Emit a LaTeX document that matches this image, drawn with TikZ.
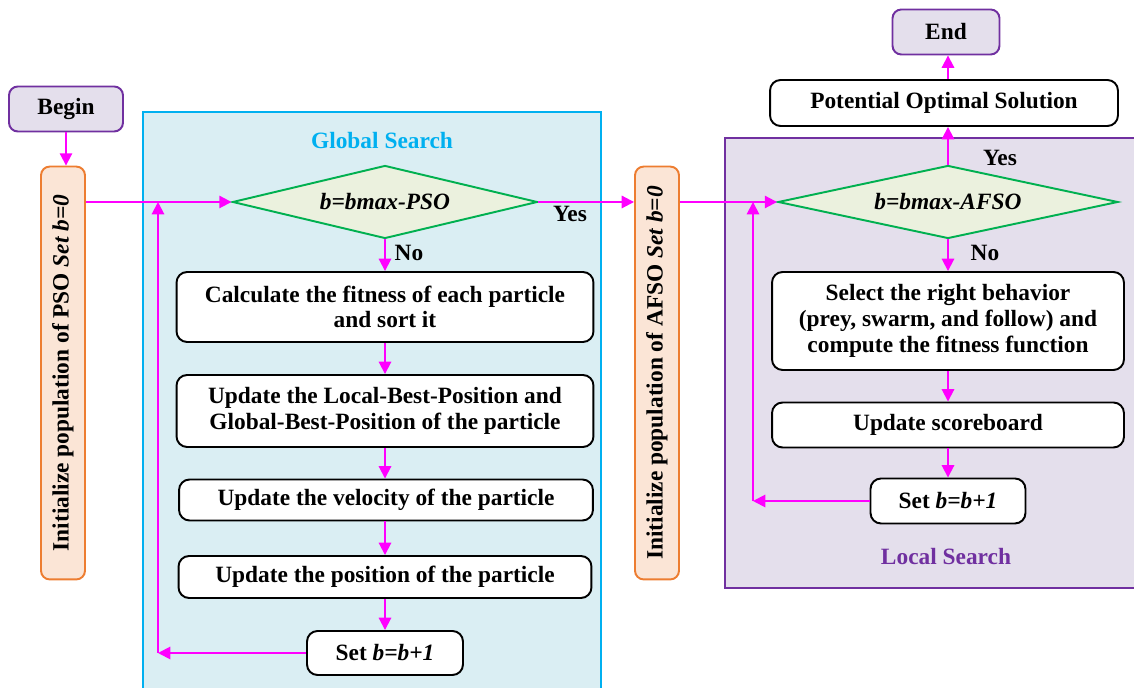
\documentclass[tikz,border=0pt]{standalone}
\usepackage{fontspec}
\setmainfont{Liberation Serif}
\usepackage{graphicx}
\usepackage[HTML]{xcolor}
\usetikzlibrary{positioning, arrows.meta, shapes.geometric}

\definecolor{flowpink}{HTML}{FF00FF}
\definecolor{purpleline}{HTML}{7030A0}
\definecolor{purplefill}{HTML}{E4DFEC}
\definecolor{orangeline}{HTML}{ED7D31}
\definecolor{orangefill}{HTML}{FBE5D6}
\definecolor{greenline}{HTML}{00B050}
\definecolor{greenfill}{HTML}{EBF1DE}
\definecolor{cyanline}{HTML}{00B0F0}
\definecolor{cyanfill}{HTML}{DAEEF3}

\begin{document}
\begin{tikzpicture}[x=0.02cm, y=-0.02cm, font=\fontsize{13.3}{14.6}\selectfont\bfseries,
  box/.style={draw, fill=white, rounded corners=6pt, line width=1.1pt, align=center, inner sep=2pt},
  term/.style={draw=purpleline, fill=purplefill, rounded corners=5pt, line width=1.1pt, minimum height=0.9cm},
  initbox/.style={draw=orangeline, fill=orangefill, rounded corners=5pt, line width=1.1pt, minimum width=0.88cm, minimum height=8.26cm, inner sep=0pt},
  test/.style={diamond, draw=greenline, fill=greenfill, line width=1.1pt, inner sep=0pt, aspect=4.5},
  flow/.style={draw=flowpink, line width=1.1pt, -{Triangle[length=7pt, width=7pt]}}]

\useasboundingbox (0,0) rectangle (1134,688);

% --- Search regions ---
\draw[draw=cyanline, fill=cyanfill, line width=1.2pt] (143,112) rectangle (601,700);
\draw[draw=purpleline, fill=purplefill, line width=1.2pt] (725,138) rectangle (1145,588);
\node[cyanline] (globaltitle) at (382,141) {Global Search};
\node[purpleline] (localtitle) at (946,557) {Local Search};

% --- PSO side ---
\node[term, minimum width=2.28cm] (begin) at (66,109) {Begin};
\node[initbox] (psoinit) at (63,373) {\rotatebox{90}{Initialize population of PSO \textit{Set b=0}}};
\node[test, minimum width=6.1cm, minimum height=1.46cm] (pstest) at (385,202) {\textit{b=bmax-PSO}};
\node[box, minimum width=8.34cm, minimum height=1.4cm] (fitness) at (385,307) {Calculate the fitness of each particle\\and sort it};
\node[box, minimum width=8.34cm, minimum height=1.44cm] (bestpos) at (385,411) {Update the Local-Best-Position and\\Global-Best-Position of the particle};
\node[box, minimum width=8.28cm, minimum height=0.82cm] (velocity) at (386,500) {Update the velocity of the particle};
\node[box, minimum width=8.26cm, minimum height=0.84cm] (position) at (385,577) {Update the position of the particle};
\node[box, minimum width=3.12cm, minimum height=0.88cm] (psostep) at (385,653) {Set \textit{b=b+1}};
\node (psoyes) at (570,214) {Yes};
\node (psono) at (409,253) {No};
\coordinate (psocorner) at (158,653);

\draw[flow] (begin.south) -- (begin.south |- psoinit.north);
\draw[flow] (psoinit.east |- pstest.west) -- (pstest.west);
\draw[flow] (pstest.south) -- (fitness.north);
\draw[flow] (fitness.south) -- (bestpos.north);
\draw[flow] (bestpos.south) -- (bestpos.south |- velocity.north);
\draw[flow] (velocity.south -| bestpos.south) -- (bestpos.south |- position.north);
\draw[flow] (position.south -| psostep.north) -- (psostep.north);
\draw[flow] (psostep.west) -- (psocorner);
\draw[flow] (psocorner) -- (psocorner |- pstest.west);

% --- AFSO side ---
\node[initbox] (afsoinit) at (657,373) {\rotatebox{90}{Initialize population of AFSO \textit{Set b=0}}};
\node[test, minimum width=6.8cm, minimum height=1.46cm] (aftest) at (948,202) {\textit{b=bmax-AFSO}};
\node[box, minimum width=7.04cm, minimum height=1.96cm] (behavior) at (948,321) {Select the right behavior\\(prey, swarm, and follow) and\\compute the fitness function};
\node[box, minimum width=7.04cm, minimum height=0.9cm] (scoreboard) at (948,425) {Update scoreboard};
\node[box, minimum width=3.1cm, minimum height=0.9cm] (afstep) at (948,501) {Set \textit{b=b+1}};
\node[box, minimum width=6.96cm, minimum height=0.92cm] (optimal) at (944,103) {Potential Optimal Solution};
\node[term, minimum width=2.14cm] (end) at (946,32) {End};
\node (afyes) at (1000,158) {Yes};
\node (afno) at (985,253) {No};
\coordinate (afcorner) at (753,501);

\draw[flow] (pstest.east) -- (pstest.east -| afsoinit.west);
\draw[flow] (afsoinit.east |- aftest.west) -- (aftest.west);
\draw[flow] (aftest.north) -- (aftest.north |- optimal.south);
\draw[flow] (optimal.north -| aftest.north) -- (aftest.north |- end.south);
\draw[flow] (aftest.south) -- (behavior.north);
\draw[flow] (behavior.south) -- (scoreboard.north);
\draw[flow] (scoreboard.south) -- (afstep.north);
\draw[flow] (afstep.west) -- (afcorner);
\draw[flow] (afcorner) -- (afcorner |- aftest.west);
\end{tikzpicture}
\end{document}
